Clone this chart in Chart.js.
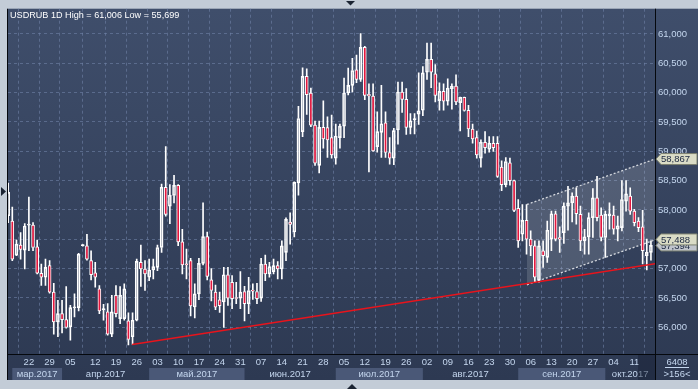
<!DOCTYPE html>
<html>
<head>
<meta charset="utf-8">
<script src="https://cdn.jsdelivr.net/npm/chart.js@4.4.1/dist/chart.umd.min.js"></script>
<style>
  html, body { margin: 0; padding: 0; background: #c3ccd7; }
  canvas { display: block; }
</style>
</head>
<body>
<canvas id="chart" width="698" height="389"></canvas>
<script>
// USDRUB 1D candles (rubles), one entry per trading day
const opens = [
  57.900, 57.811, 57.230, 57.399, 57.314, 57.740, 57.743, 57.371, 56.920, 56.852,
  57.049, 56.598, 56.091, 56.231, 56.130, 56.006, 56.330, 56.333, 57.390, 57.388,
  57.134, 56.925, 56.654, 56.300, 56.260, 55.882, 56.542, 56.147, 56.147, 56.107,
  55.837, 56.119, 57.106, 56.993, 56.852, 56.976, 57.021, 57.359, 58.386, 58.064,
  58.245, 58.419, 57.455, 57.080, 57.134, 56.344, 56.569, 57.088, 57.545, 56.807,
  56.598, 56.468, 56.430, 56.891, 56.767, 56.496, 56.496, 56.609, 56.400, 56.620,
  56.609, 56.496, 57.077, 56.908, 56.947, 57.049, 56.993, 57.275, 57.793, 57.624,
  58.460, 59.334, 60.276, 59.994, 59.447, 58.759, 59.407, 59.402, 59.232, 58.883,
  59.232, 59.430, 59.994, 60.123, 60.388, 60.225, 60.772, 59.971, 59.943, 59.080,
  59.322, 59.486, 58.979, 58.883, 59.362, 60.011, 59.886, 59.407, 59.540, 59.633,
  59.700, 60.349, 60.569, 60.321, 59.864, 60.022, 59.853, 60.067, 60.112, 59.830,
  59.920, 59.700, 59.379, 59.232, 58.883, 59.153, 59.035, 59.136, 59.136, 58.730,
  58.431, 58.804, 58.499, 58.025, 57.585, 57.822, 57.501, 57.388, 56.796, 57.303,
  57.191, 57.501, 57.935, 57.529, 57.614, 58.065, 58.121, 58.234, 57.924, 57.473,
  57.540, 57.868, 58.206, 57.912, 57.529, 57.896, 57.912, 57.670, 57.698, 58.150,
  58.234, 57.980, 57.811, 57.710, 57.219, 57.275
];
const highs = [
  58.459, 58.047, 57.484, 57.613, 57.765, 58.217, 57.782, 57.484, 57.077, 57.162,
  57.134, 56.750, 56.457, 56.457, 56.694, 56.372, 56.570, 57.258, 57.410, 57.585,
  57.303, 57.106, 56.711, 56.389, 56.401, 56.542, 56.711, 56.694, 56.739, 56.243,
  56.243, 57.162, 57.399, 57.134, 57.162, 57.162, 57.399, 58.442, 59.080, 58.430,
  58.589, 58.430, 57.669, 57.331, 57.173, 56.739, 57.173, 58.120, 57.624, 57.000,
  56.720, 56.600, 57.021, 57.021, 56.880, 56.767, 56.947, 56.699, 56.852, 56.739,
  56.750, 57.173, 57.229, 57.106, 57.162, 57.117, 57.472, 57.866, 57.951, 58.480,
  59.768, 60.422, 60.405, 60.078, 59.514, 59.514, 59.858, 59.588, 59.616, 59.463,
  59.463, 60.247, 60.417, 60.586, 60.642, 61.006, 60.790, 60.152, 60.152, 59.672,
  60.123, 59.672, 59.232, 59.390, 60.180, 60.180, 60.067, 59.644, 59.644, 60.338,
  60.445, 60.845, 60.845, 60.479, 60.169, 60.152, 60.236, 60.152, 60.304, 59.926,
  59.926, 59.785, 59.463, 59.345, 59.193, 59.334, 59.249, 59.249, 59.249, 58.837,
  58.894, 58.883, 58.510, 58.178, 58.093, 58.093, 57.642, 57.473, 57.473, 57.473,
  57.811, 57.980, 57.980, 57.710, 58.121, 58.403, 58.290, 58.375, 58.065, 57.670,
  57.952, 58.364, 58.572, 58.037, 57.980, 58.121, 58.065, 57.896, 58.499, 58.499,
  58.375, 58.009, 57.868, 57.991, 57.501, 57.473
];
const lows = [
  57.782, 57.134, 57.218, 57.162, 56.993, 57.303, 57.303, 56.908, 56.711, 56.711,
  56.581, 55.882, 55.837, 55.904, 55.983, 55.780, 56.175, 56.277, 57.380, 57.145,
  56.807, 56.683, 56.231, 56.119, 55.865, 55.837, 56.175, 56.062, 56.119, 55.699,
  55.705, 56.107, 56.694, 56.626, 56.795, 56.824, 56.965, 57.275, 57.895, 57.766,
  58.120, 57.390, 56.908, 56.823, 56.192, 56.158, 56.468, 57.060, 56.806, 56.450,
  56.300, 56.250, 55.995, 56.372, 56.316, 56.400, 56.316, 56.107, 56.231, 56.474,
  56.400, 56.440, 56.795, 56.852, 56.908, 56.823, 56.823, 57.134, 57.415, 57.540,
  58.251, 59.250, 59.627, 59.420, 58.759, 58.629, 59.052, 58.894, 58.883, 58.781,
  59.052, 59.232, 59.960, 60.011, 60.169, 60.191, 59.881, 58.646, 58.996, 58.984,
  58.894, 58.894, 58.781, 58.770, 59.120, 59.661, 59.289, 59.294, 59.294, 59.458,
  59.605, 60.225, 60.084, 59.841, 59.700, 59.700, 59.785, 59.717, 59.796, 59.345,
  59.684, 59.250, 59.136, 58.883, 58.730, 58.967, 58.984, 58.996, 58.556, 58.330,
  58.392, 58.420, 57.969, 57.360, 57.473, 57.247, 57.219, 56.768, 56.768, 57.021,
  57.106, 57.303, 57.473, 57.275, 57.428, 57.653, 57.794, 57.755, 57.303, 57.247,
  57.247, 57.529, 57.811, 57.473, 57.191, 57.670, 57.585, 57.473, 57.642, 57.980,
  57.924, 57.727, 57.630, 57.078, 56.976, 57.145
];
const closes = [
  58.300, 57.162, 57.416, 57.326, 57.726, 57.760, 57.359, 56.920, 56.852, 57.021,
  56.598, 56.091, 56.231, 56.130, 55.995, 56.333, 56.340, 57.247, 57.400, 57.162,
  56.897, 56.852, 56.277, 56.310, 55.882, 56.260, 56.231, 56.542, 56.654, 55.791,
  56.119, 57.123, 56.993, 56.908, 56.976, 57.032, 57.359, 58.386, 57.923, 58.250,
  58.419, 57.455, 57.060, 57.065, 56.361, 56.569, 57.088, 57.545, 56.868, 56.626,
  56.340, 56.365, 56.895, 56.496, 56.485, 56.490, 56.598, 56.400, 56.626, 56.615,
  56.485, 57.077, 56.908, 57.032, 57.049, 56.993, 57.387, 57.838, 57.754, 58.470,
  59.559, 60.276, 59.966, 59.447, 58.798, 59.407, 59.210, 59.193, 58.939, 59.260,
  59.430, 59.994, 60.123, 60.377, 60.225, 60.772, 59.954, 59.943, 59.007, 59.334,
  59.469, 58.979, 58.883, 59.351, 60.011, 59.886, 59.407, 59.520, 59.550, 59.690,
  60.338, 60.569, 60.349, 59.954, 60.022, 59.853, 60.078, 60.106, 59.841, 59.920,
  59.695, 59.379, 59.210, 58.939, 59.153, 59.063, 59.136, 59.063, 58.573, 58.431,
  58.826, 58.499, 57.991, 57.473, 57.822, 57.501, 57.388, 56.852, 57.388, 57.219,
  57.653, 57.935, 57.501, 57.501, 58.065, 58.121, 58.234, 57.935, 57.473, 57.540,
  57.868, 58.206, 57.868, 57.529, 57.924, 57.935, 57.670, 57.727, 58.178, 58.273,
  57.980, 57.783, 57.698, 57.304, 57.275, 57.394
];

// axis ticks
const weekTicks = [5, 10, 15, 21, 26, 31, 36, 41, 46, 51, 56, 61, 66, 71, 76, 81, 86, 91, 96, 101,
                   106, 111, 116, 121, 126, 131, 136, 141, 146, 151];
const weekLabels = ['22', '29', '05', '12', '19', '26', '03', '10', '17', '24', '31', '07', '14', '21', '28',
                    '05', '12', '19', '26', '02', '09', '16', '23', '30', '06', '13', '20', '27', '04', '11'];
const monthNames = ['мар.2017', 'апр.2017', 'май.2017', 'июн.2017', 'июл.2017', 'авг.2017', 'сен.2017', 'окт.2017'];
const monthStarts = [1, 13, 34, 57, 79, 100, 123, 144];
const yTicks = [56, 56.5, 57, 57.5, 58, 58.5, 59, 59.5, 60, 60.5, 61];
const xMin = -0.036, xMax = 155.98;
const yMin = 55.543, yMax = 61.431;

// drawn lines
const trendX = [29.9, 155.98];
const trendY = [55.705, 57.083];
const channelX = [125.1, 155.98];
const channelTop = [58.093, 58.867];
const channelBottom = [56.723, 57.488];

const title = 'USDRUB 1D High = 61,006 Low = 55,699';
const barsCount = '>156<';
const volumeText = '6408';
const lastClose = closes[closes.length - 1];

const FONT = '"Liberation Sans", Arial, sans-serif';
const TEXT = '#c4d6ee';

function fmt(v) {
  return v.toFixed(3).replace('.', ',');
}

const bodies = opens.map((o, i) => ({ x: i, y: [Math.min(o, closes[i]), Math.max(o, closes[i])] }));
const upperWicks = opens.map((o, i) => ({ x: i, y: [Math.max(o, closes[i]), highs[i]] }));
const lowerWicks = opens.map((o, i) => ({ x: i, y: [lows[i], Math.min(o, closes[i])] }));
const bodyColors = opens.map((o, i) => closes[i] < o ? '#e3173e' : 'rgba(0,0,0,0)');

function priceTag(ctx, yPix, text, fill) {
  const h = 11;
  ctx.beginPath();
  ctx.moveTo(656, yPix);
  ctx.lineTo(661, yPix - h / 2);
  ctx.lineTo(697, yPix - h / 2);
  ctx.lineTo(697, yPix + h / 2);
  ctx.lineTo(661, yPix + h / 2);
  ctx.closePath();
  ctx.fillStyle = fill;
  ctx.fill();
  ctx.strokeStyle = '#7c816f';
  ctx.lineWidth = 1;
  ctx.stroke();
  ctx.fillStyle = '#1b2740';
  ctx.textAlign = 'left';
  ctx.textBaseline = 'middle';
  ctx.fillText(text, 661, yPix + 0.5);
}

function triangle(ctx, pts) {
  ctx.beginPath();
  ctx.moveTo(pts[0], pts[1]);
  ctx.lineTo(pts[2], pts[3]);
  ctx.lineTo(pts[4], pts[5]);
  ctx.closePath();
  ctx.fill();
}

const terminalFrame = {
  id: 'terminalFrame',
  beforeDraw(chart) {
    const { ctx, chartArea: a, scales: { x } } = chart;
    const bottom = 380;
    ctx.save();
    ctx.fillStyle = '#c3ccd7';
    ctx.fillRect(0, 0, chart.width, chart.height);
    const g = ctx.createLinearGradient(0, a.top, 0, bottom);
    g.addColorStop(0, '#3f4e6b');
    g.addColorStop(1, '#2d3952');
    ctx.fillStyle = g;
    ctx.fillRect(a.left, a.top, chart.width - a.left, bottom - a.top);

    // month bands under the day labels
    ctx.font = '9.5px ' + FONT;
    ctx.textAlign = 'center';
    ctx.textBaseline = 'middle';
    monthNames.forEach((name, i) => {
      const x0 = x.getPixelForValue(monthStarts[i]);
      const x1 = i + 1 < monthStarts.length ? x.getPixelForValue(monthStarts[i + 1]) : a.right;
      if (i % 2 === 0) {
        ctx.fillStyle = '#4a5877';
        ctx.fillRect(x0, 368, x1 - x0, bottom - 368);
      }
      ctx.fillStyle = TEXT;
      ctx.fillText(name, (x0 + x1) / 2, 374);
    });
    ctx.restore();
  },
  afterDraw(chart) {
    const { ctx, chartArea: a, scales: { y } } = chart;
    ctx.save();
    // current bar marker in the axis
    ctx.fillStyle = 'rgba(22,32,52,0.45)';
    ctx.fillRect(638, a.bottom + 1, a.right - 638, 380 - a.bottom - 1);

    // axis borders
    ctx.strokeStyle = '#05080d';
    ctx.lineWidth = 1;
    ctx.beginPath();
    ctx.moveTo(a.right + 0.5, a.top);
    ctx.lineTo(a.right + 0.5, 380);
    ctx.moveTo(a.left, a.bottom + 0.5);
    ctx.lineTo(chart.width, a.bottom + 0.5);
    ctx.moveTo(a.left - 0.5, a.top);
    ctx.lineTo(a.left - 0.5, 380);
    ctx.stroke();

    // title
    ctx.font = '9.1px ' + FONT;
    ctx.fillStyle = '#ffffff';
    ctx.textAlign = 'left';
    ctx.textBaseline = 'middle';
    ctx.fillText(title, 10, 15);

    // price tags
    ctx.font = '9.5px ' + FONT;
    priceTag(ctx, y.getPixelForValue(lastClose), fmt(lastClose), '#bfc4cc');
    priceTag(ctx, y.getPixelForValue(channelBottom[1]) - 0.5, fmt(channelBottom[1]), '#dadcc6');
    priceTag(ctx, y.getPixelForValue(channelTop[1]), fmt(channelTop[1]), '#dadcc6');

    // right bottom cell
    ctx.fillStyle = TEXT;
    ctx.textAlign = 'center';
    ctx.fillText(volumeText, 677, 362);
    ctx.fillText(barsCount, 677, 374);
    ctx.strokeStyle = TEXT;
    ctx.beginPath();
    ctx.moveTo(665, 367.5);
    ctx.lineTo(689, 367.5);
    ctx.stroke();

    // frame arrows
    ctx.fillStyle = '#1b2433';
    triangle(ctx, [346, 1, 355, 1, 350.5, 5.5]);
    triangle(ctx, [347, 389, 357, 389, 352, 384]);
    triangle(ctx, [1, 187, 1, 196, 6, 191.5]);
    ctx.restore();
  }
};

const gridColor = 'rgba(112,130,166,0.6)';

new Chart(document.getElementById('chart'), {
  type: 'bar',
  data: {
    datasets: [
      {
        type: 'line',
        label: 'trend',
        data: trendX.map((x, i) => ({ x: x, y: trendY[i] })),
        borderColor: '#e8141c',
        borderWidth: 1.5,
        pointRadius: 0,
        order: 0,
        clip: 0
      },
      {
        type: 'line',
        label: 'channel top',
        data: channelX.map((x, i) => ({ x: x, y: channelTop[i] })),
        borderColor: '#d4d8de',
        borderWidth: 1.3,
        borderDash: [2, 2],
        pointRadius: 0,
        fill: '+1',
        backgroundColor: 'rgba(255,255,255,0.14)',
        order: 5,
        clip: 0
      },
      {
        type: 'line',
        label: 'channel bottom',
        data: channelX.map((x, i) => ({ x: x, y: channelBottom[i] })),
        borderColor: '#d4d8de',
        borderWidth: 1.3,
        borderDash: [2, 2],
        pointRadius: 0,
        fill: false,
        order: 5,
        clip: 0
      },
      {
        label: 'body',
        data: bodies,
        backgroundColor: bodyColors,
        borderColor: '#ffffff',
        borderWidth: 1,
        borderSkipped: false,
        barThickness: 3,
        minBarLength: 1,
        grouped: false,
        order: 2,
        clip: 0
      },
      {
        label: 'upper wick',
        data: upperWicks,
        backgroundColor: '#ffffff',
        barThickness: 1,
        grouped: false,
        order: 3,
        clip: 0
      },
      {
        label: 'lower wick',
        data: lowerWicks,
        backgroundColor: '#ffffff',
        barThickness: 1,
        grouped: false,
        order: 3,
        clip: 0
      }
    ]
  },
  options: {
    responsive: false,
    animation: false,
    devicePixelRatio: 1,
    layout: { padding: { left: 8, top: 6, right: 0, bottom: 9 } },
    plugins: {
      legend: { display: false },
      tooltip: { enabled: false }
    },
    scales: {
      x: {
        type: 'linear',
        min: xMin,
        max: xMax,
        offset: false,
        afterBuildTicks: s => { s.ticks = weekTicks.map(v => ({ value: v })); },
        afterFit: s => { s.height = 26; },
        grid: { color: gridColor, drawTicks: false },
        border: { display: false, dash: [3, 3] },
        ticks: {
          color: TEXT,
          font: { family: FONT, size: 9.5 },
          padding: 3,
          maxRotation: 0,
          autoSkip: false,
          callback: (v, i) => weekLabels[i]
        }
      },
      y: {
        position: 'right',
        min: yMin,
        max: yMax,
        afterBuildTicks: s => { s.ticks = yTicks.map(v => ({ value: v })); },
        afterFit: s => { s.width = 43; },
        grid: { color: gridColor, drawTicks: false },
        border: { display: false, dash: [3, 3] },
        ticks: {
          color: TEXT,
          font: { family: FONT, size: 9.5 },
          padding: 3,
          callback: v => fmt(v)
        }
      }
    }
  },
  plugins: [terminalFrame]
});
</script>
</body>
</html>
